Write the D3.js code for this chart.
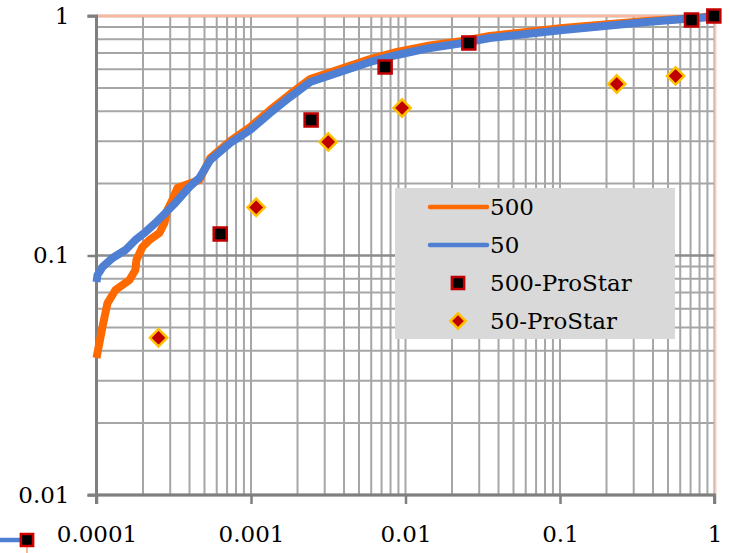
<!DOCTYPE html>
<html>
<head>
<meta charset="utf-8">
<script src="https://cdn.jsdelivr.net/npm/d3@7"></script>
<style>
  html, body { margin: 0; padding: 0; background: #fff; }
  svg { display: block; font-family: "DejaVu Serif", "Liberation Serif", serif; }
</style>
</head>
<body>
<div id="chart"></div>
<script>
// series "500" (orange line)
const s500 = [
  [0.0001, 0.0373], [1.093e-4, 0.0503], [1.178e-4, 0.0633], [1.327e-4, 0.0718],
  [1.634e-4, 0.0790], [1.786e-4, 0.0870], [1.813e-4, 0.0958], [1.983e-4, 0.1085],
  [2.200e-4, 0.1161], [2.553e-4, 0.1242], [2.750e-4, 0.1367], [2.876e-4, 0.1549],
  [3.098e-4, 0.1705], [3.337e-4, 0.1914], [3.759e-4, 0.1970], [4.63e-4, 0.2066],
  [5.454e-4, 0.2553], [7.34e-4, 0.3006], [9.89e-4, 0.3440], [1.331e-3, 0.4052],
  [1.793e-3, 0.4724], [2.415e-3, 0.5457], [3.773e-3, 0.6006], [5.90e-3, 0.6612],
  [8.81e-3, 0.7076], [0.0144, 0.7530], [0.02353, 0.7862], [0.03516, 0.8249],
  [0.1042, 0.891], [0.3636, 0.953], [0.765, 0.981], [0.970, 1.0]
];

// series "50" (blue line)
const s50 = [
  [0.0001, 0.0775], [1.015e-4, 0.0829], [1.093e-4, 0.0895], [1.269e-4, 0.0976],
  [1.540e-4, 0.1054], [1.786e-4, 0.1161], [2.073e-4, 0.1253], [2.406e-4, 0.1367],
  [2.792e-4, 0.1505], [3.239e-4, 0.1657], [3.990e-4, 0.1932], [4.63e-4, 0.2107],
  [5.454e-4, 0.2504], [7.34e-4, 0.2949], [9.89e-4, 0.3342], [1.331e-3, 0.3936],
  [1.793e-3, 0.4590], [2.415e-3, 0.5302], [3.773e-3, 0.5838], [5.90e-3, 0.6427],
  [8.81e-3, 0.6874], [0.0144, 0.7355], [0.02353, 0.7713], [0.03516, 0.8092],
  [0.1042, 0.874], [0.3636, 0.944], [0.765, 0.981], [0.970, 0.990]
];

// 500-ProStar (squares)
const pro500 = [
  [0.000632, 0.123], [0.00245, 0.368], [0.00738, 0.612],
  [0.0257, 0.771], [0.71, 0.962], [0.99, 1.0]
];

// 50-ProStar (diamonds)
const pro50 = [
  [0.000252, 0.0453], [0.00108, 0.159], [0.00316, 0.298],
  [0.0095, 0.413], [0.233, 0.52], [0.56, 0.562]
];

const xTickLabels = ["0.0001", "0.001", "0.01", "0.1", "1"];
const yTickLabels = ["0.01", "0.1", "1"];
const legendNames = ["500", "50", "500-ProStar", "50-ProStar"];

const width = 730, height = 553;
const orange = "#ff6a00", blue = "#4f7fd3";
const gridColor = "#a6a6a6", axisColor = "#7f7f7f";

const x = d3.scaleLog().domain([1e-4, 1]).range([96.5, 714.5]);
const y = d3.scaleLog().domain([0.01, 1]).range([495, 16]);

const svg = d3.select("#chart").append("svg")
  .attr("width", width)
  .attr("height", height);

// grid
const grid = svg.append("g");
grid.selectAll("line.vx")
  .data(x.ticks())
  .join("line")
  .attr("class", "vx")
  .attr("x1", d => x(d)).attr("x2", d => x(d))
  .attr("y1", y(1)).attr("y2", y(0.01))
  .attr("stroke", gridColor)
  .attr("stroke-width", 2);

grid.selectAll("line.hy")
  .data(y.ticks())
  .join("line")
  .attr("class", "hy")
  .attr("x1", x(1e-4)).attr("x2", x(1))
  .attr("y1", d => y(d)).attr("y2", d => y(d))
  .attr("stroke", d => Math.abs(Math.log10(d) % 1) < 1e-9 ? "#8c8c8c" : gridColor)
  .attr("stroke-width", d => Math.abs(Math.log10(d) % 1) < 1e-9 ? 2.5 : 2);

// light edges at top and right
svg.append("line")
  .attr("x1", x(1e-4)).attr("x2", x(1))
  .attr("y1", y(1)).attr("y2", y(1))
  .attr("stroke", "#f9b89c").attr("stroke-width", 2.5);
svg.append("line")
  .attr("x1", x(1) + 1).attr("x2", x(1) + 1)
  .attr("y1", y(1)).attr("y2", y(0.01))
  .attr("stroke", "#fbcdbb").attr("stroke-width", 2);

// axes
const xAxis = svg.append("g")
  .attr("transform", `translate(0,${y(0.01)})`)
  .call(d3.axisBottom(x).tickValues(xTickLabels.map(Number)).tickFormat((d, i) => xTickLabels[i]).tickSize(9).tickPadding(22));
const yAxis = svg.append("g")
  .attr("transform", `translate(${x(1e-4)},0)`)
  .call(d3.axisLeft(y).tickValues(yTickLabels.map(Number)).tickFormat((d, i) => yTickLabels[i]).tickSize(9).tickPadding(18));

[xAxis, yAxis].forEach(g => {
  g.select(".domain").attr("stroke", axisColor).attr("stroke-width", 3);
  g.selectAll(".tick line").attr("stroke", axisColor).attr("stroke-width", 2.5);
  g.selectAll(".tick text")
    .attr("font-family", "DejaVu Serif, serif")
    .attr("font-size", "23px")
    .attr("fill", "#000");
});
xAxis.select(".domain").attr("d", `M${x(1e-4)},9V0H${x(1)}V9`);
yAxis.select(".domain").attr("d", `M-9,${y(1)}H0V${y(0.01)}H-9`);

// lines
const line = d3.line().x(d => x(d[0])).y(d => y(d[1]));
svg.append("path")
  .datum(s500)
  .attr("d", line)
  .attr("fill", "none")
  .attr("stroke", orange)
  .attr("stroke-width", 8)
  .attr("stroke-linejoin", "round");
svg.append("path")
  .datum(s50)
  .attr("d", line)
  .attr("fill", "none")
  .attr("stroke", blue)
  .attr("stroke-width", 8)
  .attr("stroke-linejoin", "round");

// markers
const square = d3.symbol().type(d3.symbolSquare).size(170);
const diamond = d3.symbol().type(d3.symbolDiamond2).size(190);

svg.append("g").selectAll("path")
  .data(pro500)
  .join("path")
  .attr("d", square)
  .attr("transform", d => `translate(${x(d[0])},${y(d[1])})`)
  .attr("fill", "#000")
  .attr("stroke", "#c00000")
  .attr("stroke-width", 2.5);

svg.append("g").selectAll("path")
  .data(pro50)
  .join("path")
  .attr("d", diamond)
  .attr("transform", d => `translate(${x(d[0])},${y(d[1])})`)
  .attr("fill", "#c00000")
  .attr("stroke", "#ffc000")
  .attr("stroke-width", 2.5);

// legend
const legend = svg.append("g").attr("transform", "translate(395,188)");
legend.append("rect")
  .attr("width", 280).attr("height", 151)
  .attr("fill", "#d9d9d9");

const items = legend.selectAll("g.item")
  .data(legendNames)
  .join("g")
  .attr("class", "item")
  .attr("transform", (d, i) => `translate(0,${19 + i * 38})`);

items.filter((d, i) => i < 2).append("line")
  .attr("x1", 35).attr("x2", 92)
  .attr("stroke", (d, i) => i === 0 ? orange : blue)
  .attr("stroke-width", 4.5)
  .attr("stroke-linecap", "round");
items.filter((d, i) => i === 2).append("path")
  .attr("d", d3.symbol().type(d3.symbolSquare).size(150))
  .attr("transform", "translate(63,0)")
  .attr("fill", "#000").attr("stroke", "#c00000").attr("stroke-width", 2.5);
items.filter((d, i) => i === 3).append("path")
  .attr("d", d3.symbol().type(d3.symbolDiamond2).size(150))
  .attr("transform", "translate(63,0)")
  .attr("fill", "#c00000").attr("stroke", "#ffc000").attr("stroke-width", 2.5);
items.append("text")
  .attr("x", 95)
  .attr("dy", "0.36em")
  .attr("font-size", "23px")
  .attr("fill", "#000")
  .text(d => d);

// stray legend key at bottom left
const key = svg.append("g").attr("transform", "translate(0,540)");
key.append("line").attr("x1", 0).attr("x2", 20).attr("stroke", blue).attr("stroke-width", 4.5);
key.append("line").attr("x1", 27).attr("x2", 27).attr("y1", 7).attr("y2", 13).attr("stroke", "#f9b89c").attr("stroke-width", 2);
key.append("path")
  .attr("d", d3.symbol().type(d3.symbolSquare).size(150))
  .attr("transform", "translate(27,0)")
  .attr("fill", "#000").attr("stroke", "#d00000").attr("stroke-width", 2.5);
</script>
</body>
</html>
